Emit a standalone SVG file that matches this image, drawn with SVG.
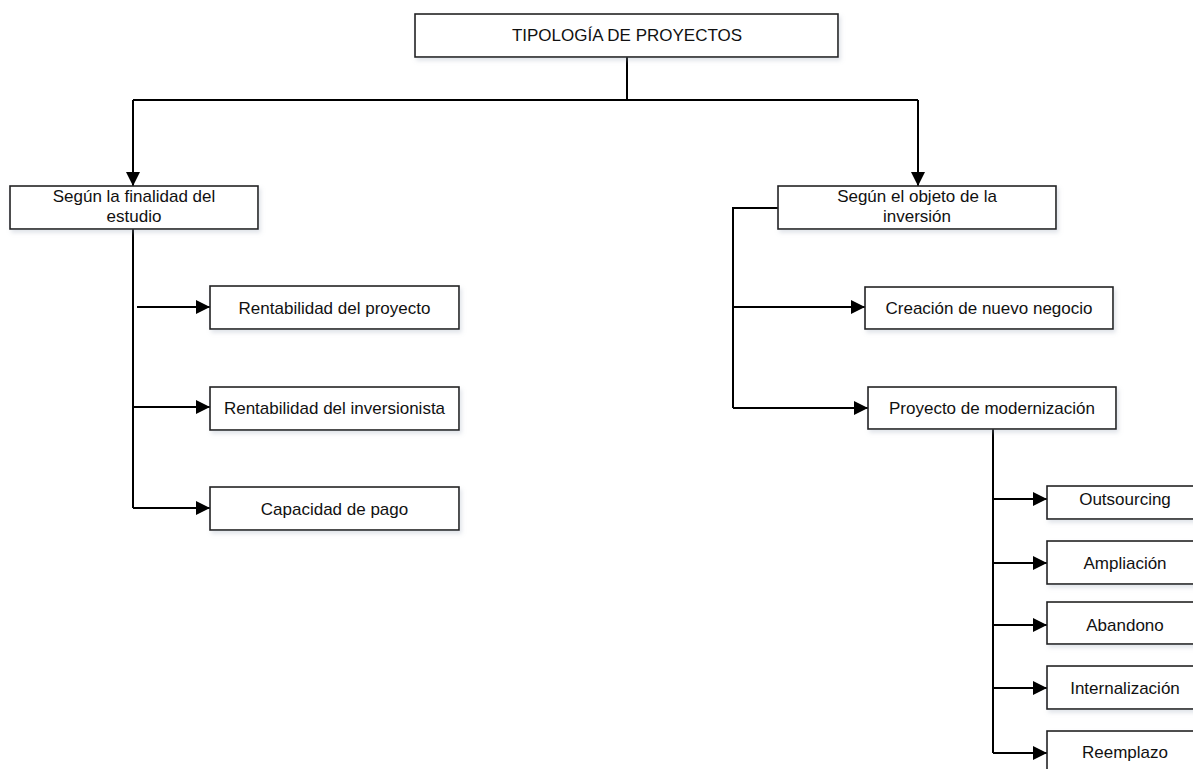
<svg xmlns="http://www.w3.org/2000/svg" width="1193" height="769" viewBox="0 0 1193 769">
  <defs>
    <marker id="arrow" markerUnits="userSpaceOnUse" markerWidth="14" markerHeight="14" refX="14" refY="7" orient="auto">
      <path d="M0,0 L14,7 L0,14 Z" fill="#000"/>
    </marker>
    <filter id="shadow" x="-5%" y="-20%" width="115%" height="160%">
      <feDropShadow dx="2" dy="3" stdDeviation="2" flood-color="#9aa6b8" flood-opacity="0.3"/>
    </filter>
  </defs>
  <style>
    .box { fill: #fff; stroke: #222; stroke-width: 1.6; filter: url(#shadow); }
    .lbl { font-family: "Liberation Sans", Arial, sans-serif; font-size: 17px; fill: #111; text-anchor: middle; }
    .wire { fill: none; stroke: #000; stroke-width: 2; }
    .arr { fill: none; stroke: #000; stroke-width: 2; marker-end: url(#arrow); }
  </style>
  <rect width="1193" height="769" fill="#fff"/>

  <!-- connectors -->
  <g id="connectors">
    <!-- root split -->
    <path class="wire" d="M627,57 V100"/>
    <path class="arr" d="M133,100 H918 M133,100 V186"/>
    <path class="arr" d="M918,100 V186"/>
    <!-- left branch -->
    <path class="wire" d="M133,229 V508"/>
    <path class="arr" d="M137,307 H210"/>
    <path class="arr" d="M133,407 H210"/>
    <path class="arr" d="M133,508 H210"/>
    <!-- right branch -->
    <path class="wire" d="M778,208 H733 V408"/>
    <path class="arr" d="M733,307 H865"/>
    <path class="arr" d="M733,408 H868"/>
    <!-- modernization subtypes -->
    <path class="wire" d="M993,429 V753"/>
    <path class="arr" d="M993,499 H1047"/>
    <path class="arr" d="M993,563 H1047"/>
    <path class="arr" d="M993,625 H1047"/>
    <path class="arr" d="M993,688 H1047"/>
    <path class="arr" d="M993,753 H1047"/>
  </g>

  <g id="root">
    <rect class="box" x="415" y="14" width="423" height="43"/>
    <text class="lbl" x="627" y="41">TIPOLOGÍA DE PROYECTOS</text>
  </g>

  <g id="finalidad">
    <rect class="box" x="10" y="186" width="248" height="43"/>
    <text class="lbl" x="134" y="202">Según la finalidad del</text>
    <text class="lbl" x="134" y="222">estudio</text>
  </g>

  <g id="rent-proyecto">
    <rect class="box" x="210" y="286" width="249" height="43"/>
    <text class="lbl" x="334.5" y="314">Rentabilidad del proyecto</text>
  </g>

  <g id="rent-inversionista">
    <rect class="box" x="210" y="387" width="249" height="43"/>
    <text class="lbl" x="334.5" y="414">Rentabilidad del inversionista</text>
  </g>

  <g id="capacidad-pago">
    <rect class="box" x="210" y="487" width="249" height="43"/>
    <text class="lbl" x="334.5" y="515">Capacidad de pago</text>
  </g>

  <g id="objeto">
    <rect class="box" x="778" y="186" width="278" height="43"/>
    <text class="lbl" x="917" y="202">Según el objeto de la</text>
    <text class="lbl" x="917" y="222">inversión</text>
  </g>

  <g id="nuevo-negocio">
    <rect class="box" x="865" y="287" width="248" height="42"/>
    <text class="lbl" x="989" y="314">Creación de nuevo negocio</text>
  </g>

  <g id="modernizacion">
    <rect class="box" x="868" y="387" width="248" height="42"/>
    <text class="lbl" x="992" y="414">Proyecto de modernización</text>
  </g>

  <g id="outsourcing">
    <rect class="box" x="1047" y="486" width="160" height="33"/>
    <text class="lbl" x="1125" y="505">Outsourcing</text>
  </g>

  <g id="ampliacion">
    <rect class="box" x="1047" y="541" width="160" height="43"/>
    <text class="lbl" x="1125" y="569">Ampliación</text>
  </g>

  <g id="abandono">
    <rect class="box" x="1047" y="602" width="160" height="42"/>
    <text class="lbl" x="1125" y="631">Abandono</text>
  </g>

  <g id="internalizacion">
    <rect class="box" x="1047" y="666" width="160" height="43"/>
    <text class="lbl" x="1125" y="694">Internalización</text>
  </g>

  <g id="reemplazo">
    <rect class="box" x="1047" y="731" width="160" height="50"/>
    <text class="lbl" x="1125" y="758">Reemplazo</text>
  </g>
</svg>
